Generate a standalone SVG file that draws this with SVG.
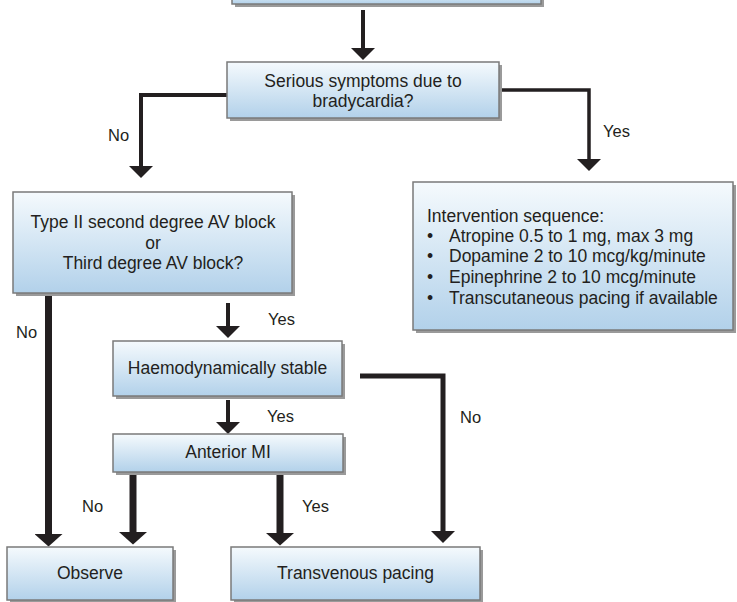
<svg xmlns="http://www.w3.org/2000/svg" width="737" height="602" viewBox="0 0 737 602">
<defs>
<linearGradient id="boxfill" x1="0" y1="0" x2="0" y2="1">
<stop offset="0" stop-color="#f5fafd"/>
<stop offset="1" stop-color="#b2d1ea"/>
</linearGradient>
<marker id="headS" markerUnits="userSpaceOnUse" markerWidth="12" markerHeight="24" viewBox="0 0 11 22" refX="0" refY="11" orient="auto">
<path d="M0,0 L11,11 L0,22 z" fill="#231f20"/>
</marker>
<marker id="headL" markerUnits="userSpaceOnUse" markerWidth="13" markerHeight="28" viewBox="0 0 12 27" refX="0" refY="13.5" orient="auto">
<path d="M0,0 L12,13.5 L0,27 z" fill="#231f20"/>
</marker>
</defs>
<style>
.box{fill:url(#boxfill);stroke:#7a7a7a;stroke-width:1.5}
.shadow{fill:#9a9a9a}
.t{font-family:"Liberation Sans",Arial,sans-serif;font-size:17.5px;fill:#231f20}
.c{text-anchor:middle}
.lbl{font-family:"Liberation Sans",Arial,sans-serif;font-size:16.5px;fill:#231f20}
.ln{fill:none;stroke:#231f20;stroke-linejoin:miter}
.s{stroke-width:4;marker-end:url(#headS)}
.l{stroke-width:7;marker-end:url(#headL)}
</style>
<rect width="737" height="602" fill="#ffffff"/>

<g id="connectors">
<path class="ln s" d="M363,10 V48"/>
<path class="ln s" d="M227,95 H141 V166"/>
<path class="ln s" style="stroke-width:3.5" d="M502,90 H589 V159"/>
<path class="ln s" d="M228,303 V326"/>
<path class="ln s" d="M228,400 V422"/>
<path class="ln s" style="stroke-width:5" d="M360,376 H443 V531"/>
<path class="ln l" d="M48.5,294 V534"/>
<path class="ln l" d="M133,472 V532"/>
<path class="ln l" d="M280,472 V533"/>
<text class="lbl" x="108" y="141">No</text>
<text class="lbl" x="603" y="137">Yes</text>
<text class="lbl" x="16" y="338">No</text>
<text class="lbl" x="268" y="325">Yes</text>
<text class="lbl" x="267" y="422">Yes</text>
<text class="lbl" x="460" y="423">No</text>
<text class="lbl" x="82" y="512">No</text>
<text class="lbl" x="302" y="512">Yes</text>
</g>

<g id="top">
<rect class="shadow" x="235" y="-7" width="309" height="14"/>
<rect class="box" x="232" y="-10" width="309" height="14"/>
</g>

<g id="serious">
<rect class="shadow" x="230" y="65" width="272" height="56"/>
<rect class="box" x="227" y="62" width="272" height="56"/>
<text class="t c" x="363" y="87">Serious symptoms due to</text>
<text class="t c" x="363" y="107">bradycardia?</text>
</g>

<g id="intervention">
<rect class="shadow" x="416" y="185" width="320" height="148"/>
<rect class="box" x="413" y="182" width="320" height="148"/>
<text class="t" x="427" y="222">Intervention sequence:</text>
<text class="t" x="427" y="242">•</text><text class="t" x="449" y="242">Atropine 0.5 to 1 mg, max 3 mg</text>
<text class="t" x="427" y="262">•</text><text class="t" x="449" y="262">Dopamine 2 to 10 mcg/kg/minute</text>
<text class="t" x="427" y="283">•</text><text class="t" x="449" y="283">Epinephrine 2 to 10 mcg/minute</text>
<text class="t" x="427" y="304">•</text><text class="t" x="449" y="304">Transcutaneous pacing if available</text>
</g>

<g id="avblock">
<rect class="shadow" x="16" y="195" width="279" height="101"/>
<rect class="box" x="13" y="192" width="279" height="101"/>
<text class="t c" x="153" y="228">Type II second degree AV block</text>
<text class="t c" x="153" y="248.5">or</text>
<text class="t c" x="153" y="269">Third degree AV block?</text>
</g>

<g id="stable">
<rect class="shadow" x="116" y="344" width="229" height="55"/>
<rect class="box" x="113" y="341" width="229" height="55"/>
<text class="t c" x="227.5" y="374">Haemodynamically stable</text>
</g>

<g id="anterior">
<rect class="shadow" x="116" y="437" width="230" height="38"/>
<rect class="box" x="113" y="434" width="230" height="38"/>
<text class="t c" x="228" y="458">Anterior MI</text>
</g>

<g id="observe">
<rect class="shadow" x="10" y="550" width="166" height="53"/>
<rect class="box" x="7" y="547" width="166" height="53"/>
<text class="t c" x="90" y="579">Observe</text>
</g>

<g id="transvenous">
<rect class="shadow" x="234" y="550" width="249" height="53"/>
<rect class="box" x="231" y="547" width="249" height="53"/>
<text class="t c" x="355.5" y="579">Transvenous pacing</text>
</g>
</svg>
